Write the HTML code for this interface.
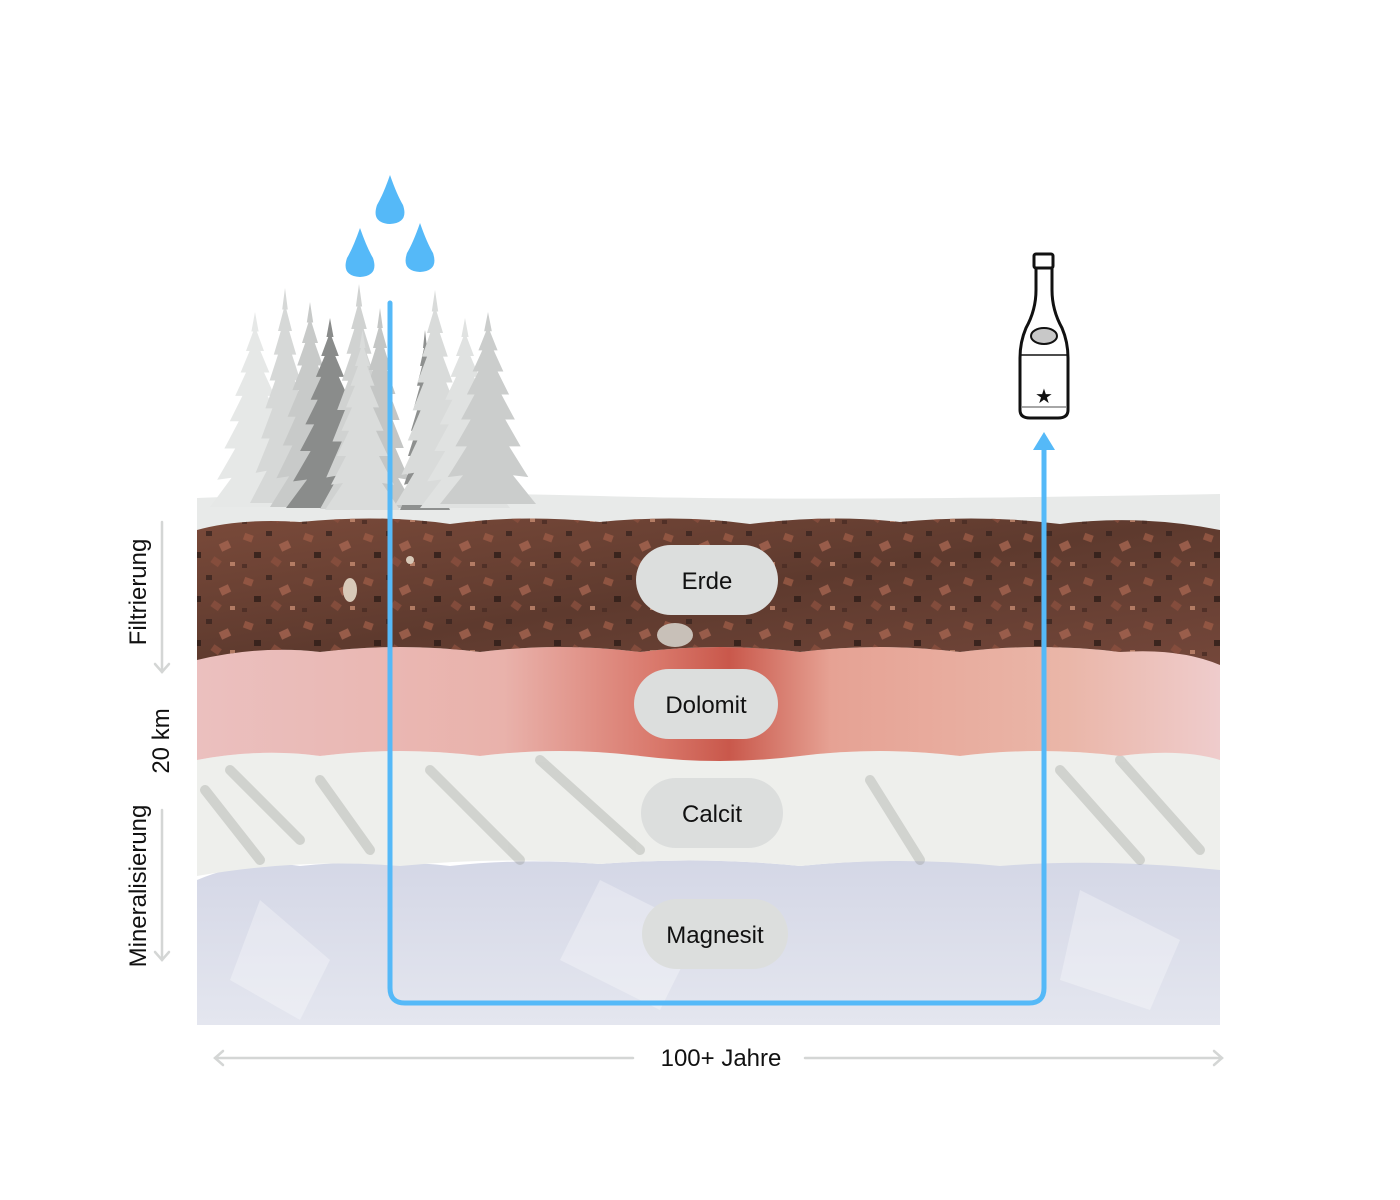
<!DOCTYPE html>
<html><head><meta charset="utf-8"><style>
html,body{margin:0;padding:0;background:#fff;}
svg{display:block;font-family:"Liberation Sans",Arial,sans-serif;}
</style></head><body>
<svg width="1400" height="1200" viewBox="0 0 1400 1200" xmlns="http://www.w3.org/2000/svg">
<defs>
<symbol id="t" viewBox="0 0 100 200" preserveAspectRatio="none">
<polygon points="50,0 54,20 52,20 60,40 56,40 66,62 60,62 72,86 64,86 78,112 68,112 84,140 72,140 92,172 76,170 100,200 0,200 24,170 8,172 28,140 16,140 32,112 22,112 36,86 28,86 40,62 34,62 44,40 40,40 48,20 46,20"/>
</symbol>
<linearGradient id="dol" x1="0" x2="1" y1="0" y2="0">
<stop offset="0" stop-color="#ebc0bf"/><stop offset="0.3" stop-color="#e9b2ab"/>
<stop offset="0.45" stop-color="#d9786b"/><stop offset="0.52" stop-color="#c9584b"/>
<stop offset="0.62" stop-color="#e6a294"/><stop offset="0.85" stop-color="#eab6a8"/>
<stop offset="1" stop-color="#efcccc"/></linearGradient>
<linearGradient id="erde" x1="0" x2="1" y1="0" y2="1">
<stop offset="0" stop-color="#7a4a3a"/><stop offset="0.5" stop-color="#5e3a2e"/><stop offset="1" stop-color="#74473a"/></linearGradient>
<linearGradient id="mag" x1="0" x2="0" y1="0" y2="1">
<stop offset="0" stop-color="#d4d7e6"/><stop offset="1" stop-color="#e4e6ef"/></linearGradient>
<pattern id="soil" width="60" height="44" patternUnits="userSpaceOnUse">
<rect x="4" y="6" width="9" height="7" fill="#9a5a45" transform="rotate(20 8 9)"/>
<rect x="26" y="3" width="6" height="5" fill="#3a2520"/>
<rect x="40" y="14" width="10" height="8" fill="#a56450" transform="rotate(-25 45 18)"/>
<rect x="14" y="24" width="7" height="6" fill="#2e1d18"/>
<rect x="32" y="30" width="9" height="7" fill="#8a4f3e" transform="rotate(35 36 33)"/>
<rect x="50" y="34" width="5" height="4" fill="#c58a70"/>
<rect x="2" y="36" width="5" height="4" fill="#4a2c24"/>
</pattern>
</defs>

<path d="M197,498 Q400,490 600,496 T1220,494 L1220,530 L197,530 Z" fill="#e8eae9"/>

<g>
<use href="#t" x="210" y="312" width="90" height="195" fill="#e6e8e7"/>
<use href="#t" x="250" y="288" width="70" height="215" fill="#d6d8d7"/>
<use href="#t" x="270" y="302" width="80" height="205" fill="#c8cac9"/>
<use href="#t" x="286" y="318" width="88" height="190" fill="#8a8c8b"/>
<use href="#t" x="320" y="284" width="78" height="225" fill="#d0d2d1"/>
<use href="#t" x="345" y="308" width="70" height="200" fill="#c4c6c5"/>
<use href="#t" x="400" y="330" width="50" height="180" fill="#8e908f"/>
<use href="#t" x="395" y="290" width="80" height="215" fill="#d9dbda"/>
<use href="#t" x="420" y="318" width="90" height="190" fill="#e0e2e1"/>
<use href="#t" x="440" y="312" width="96" height="192" fill="#cbcdcc"/>
<use href="#t" x="325" y="330" width="75" height="180" fill="#dadcdb"/>
</g>

<path d="M197,880 Q250,858 300,866 Q380,858 450,866 Q520,858 600,864 Q700,856 800,866 Q900,856 1000,864 Q1100,858 1220,868 L1220,1025 L197,1025 Z" fill="url(#mag)"/>
<g fill="#ffffff" opacity="0.3">
<polygon points="260,900 330,960 300,1020 230,980"/><polygon points="600,880 700,930 660,1010 560,960"/><polygon points="1080,890 1180,940 1150,1010 1060,980"/></g>
<path d="M197,760 Q260,748 320,756 Q400,746 480,756 Q560,746 640,756 Q720,746 800,756 Q880,746 960,756 Q1040,746 1120,756 Q1180,748 1220,752 L1220,870 Q1100,858 1000,866 Q900,856 800,866 Q700,856 600,864 Q500,856 400,866 Q300,858 197,876 Z" fill="#eeefec"/>
<g stroke="#8e928a" stroke-width="10" fill="none" opacity="0.3" stroke-linecap="round">
<path d="M205,790 L260,860"/><path d="M230,770 L300,840"/><path d="M430,770 L520,860"/><path d="M540,760 L640,850"/><path d="M870,780 L920,860"/><path d="M1060,770 L1140,860"/><path d="M1120,760 L1200,850"/><path d="M320,780 L370,850"/></g>
<path d="M197,655 Q260,645 320,652 Q400,642 480,652 Q560,642 640,652 Q720,642 800,652 Q880,642 960,652 Q1040,642 1120,652 Q1180,646 1220,650 L1220,760 Q1180,748 1120,756 Q1040,746 960,756 Q880,746 800,756 Q720,766 640,756 Q560,746 480,756 Q400,746 320,756 Q260,748 197,760 Z" fill="url(#dol)"/>
<path d="M197,530 Q240,518 300,522 Q380,514 450,524 Q520,514 600,522 Q680,514 750,524 Q830,514 900,522 Q980,514 1060,524 Q1140,514 1220,530 L1220,665 Q1180,648 1120,652 Q1040,642 960,652 Q880,642 800,652 Q720,642 640,652 Q560,642 480,652 Q400,642 320,652 Q260,645 197,660 Z" fill="url(#erde)"/>
<path d="M197,530 Q240,518 300,522 Q380,514 450,524 Q520,514 600,522 Q680,514 750,524 Q830,514 900,522 Q980,514 1060,524 Q1140,514 1220,530 L1220,665 Q1180,648 1120,652 Q1040,642 960,652 Q880,642 800,652 Q720,642 640,652 Q560,642 480,652 Q400,642 320,652 Q260,645 197,660 Z" fill="url(#soil)" opacity="0.8"/>
<g fill="#d8c9b8"><ellipse cx="350" cy="590" rx="7" ry="12"/><ellipse cx="675" cy="635" rx="18" ry="12" fill="#c8c0b8"/><ellipse cx="410" cy="560" rx="4" ry="4"/></g>

<g fill="#dcdedd">
<rect x="636" y="545" width="142" height="70" rx="35"/>
<rect x="634" y="669" width="144" height="70" rx="35"/>
<rect x="641" y="778" width="142" height="70" rx="35"/>
<rect x="642" y="899" width="146" height="70" rx="35"/></g>
<g font-size="24" fill="#111" text-anchor="middle">
<text x="707" y="589">Erde</text>
<text x="706" y="713">Dolomit</text>
<text x="712" y="822">Calcit</text>
<text x="715" y="943">Magnesit</text></g>

<path d="M390,303 L390,988 Q390,1003 405,1003 L1029,1003 Q1044,1003 1044,988 L1044,448" fill="none" stroke="#55b9f8" stroke-width="5" stroke-linecap="round"/>
<polygon points="1044,432 1033,450 1055,450" fill="#55b9f8"/>

<g fill="#55b9f8">
<path d="M390,175 Q397,195 403,205 Q409,223 390,224 Q371,223 377,205 Q383,195 390,175 Z"/>
<path d="M360,228 Q367,248 373,258 Q379,276 360,277 Q341,276 347,258 Q353,248 360,228 Z"/>
<path d="M420,223 Q427,243 433,253 Q439,271 420,272 Q401,271 407,253 Q413,243 420,223 Z"/></g>

<g fill="none" stroke="#111" stroke-width="3">
<rect x="1034" y="254" width="19" height="14" rx="2"/>
<path d="M1036,268 L1036,290 Q1036,310 1026,328 Q1020,342 1020,358 L1020,410 Q1020,418 1030,418 L1058,418 Q1068,418 1068,410 L1068,358 Q1068,342 1062,328 Q1052,310 1052,290 L1052,268"/>
</g>
<line x1="1020" y1="355" x2="1068" y2="355" stroke="#111" stroke-width="1.5"/>
<line x1="1021" y1="407" x2="1067" y2="407" stroke="#888" stroke-width="1.5"/>
<ellipse cx="1044" cy="336" rx="13" ry="8" fill="#c8c8c8" stroke="#111" stroke-width="2"/>
<text x="1044" y="403" font-size="20" text-anchor="middle" fill="#111">★</text>

<g stroke="#d4d6d5" stroke-width="2.5" fill="none" stroke-linecap="round">
<line x1="162" y1="522" x2="162" y2="672"/><polyline points="155,664 162,672 169,664"/>
<line x1="162" y1="810" x2="162" y2="960"/><polyline points="155,952 162,960 169,952"/>
<line x1="215" y1="1058" x2="633" y2="1058"/><polyline points="223,1051 215,1058 223,1065"/>
<line x1="805" y1="1058" x2="1222" y2="1058"/><polyline points="1214,1051 1222,1058 1214,1065"/>
</g>
<g font-size="24" fill="#111" text-anchor="middle">
<text transform="translate(146,592) rotate(-90)">Filtrierung</text>
<text transform="translate(169,741) rotate(-90)">20 km</text>
<text transform="translate(146,886) rotate(-90)">Mineralisierung</text>
<text x="721" y="1066">100+ Jahre</text>
</g>
</svg>
</body></html>
